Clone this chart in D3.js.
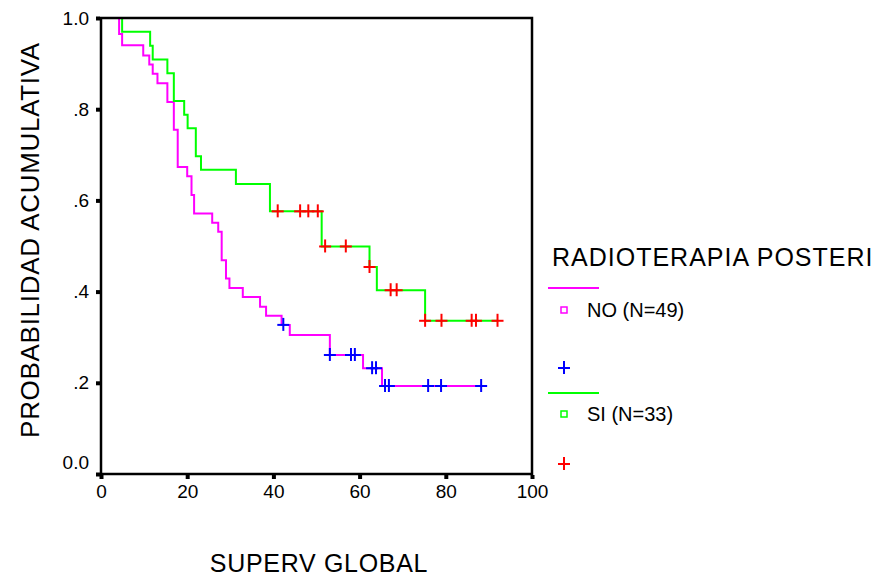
<!DOCTYPE html>
<html>
<head>
<meta charset="utf-8">
<script src="https://cdn.jsdelivr.net/npm/d3@7"></script>
<style>
  html, body { margin: 0; padding: 0; background: #fff; }
  svg { display: block; font-family: "Liberation Sans", Arial, sans-serif; }
</style>
</head>
<body>
<svg id="chart" width="881" height="579"></svg>
<script>
// Kaplan-Meier survival, grouped by post-operative radiotherapy.
// Step times (months) and the survival level reached at each step.
const noTimes = [0, 4.2, 4.9, 9.8, 11.2, 12.0, 13.1, 15.4, 16.9, 17.8, 20.0, 21.0, 21.6, 25.8, 27.2, 28.0, 29.0, 29.8, 32.9, 36.9, 38.3, 41.9, 43.8, 53.1, 60.8, 65.2];
const noSurv  = [1.0, 0.965, 0.940, 0.918, 0.898, 0.878, 0.857, 0.816, 0.755, 0.673, 0.653, 0.612, 0.571, 0.551, 0.531, 0.469, 0.429, 0.408, 0.388, 0.367, 0.347, 0.327, 0.305, 0.261, 0.232, 0.193];
const noEnd = 88.2;
const noCensored = [42.3, 53.1, 58.0, 58.9, 62.9, 63.8, 65.9, 66.8, 75.9, 78.9, 88.2];

const siTimes = [0, 4.9, 11.4, 12.0, 15.4, 16.9, 19.3, 20.1, 22.0, 23.2, 31.3, 39.2, 51.2, 62.3, 64.0, 75.2];
const siSurv  = [1.0, 0.970, 0.939, 0.909, 0.879, 0.818, 0.788, 0.758, 0.697, 0.667, 0.636, 0.576, 0.499, 0.454, 0.403, 0.336];
const siEnd = 92.0;
const siCensored = [41.0, 46.2, 48.1, 50.3, 52.0, 56.8, 62.3, 67.2, 68.6, 75.2, 79.0, 86.0, 87.0, 92.0];

const xTicks = [0, 20, 40, 60, 80, 100];
const xTickLabels = ["0", "20", "40", "60", "80", "100"];
const yTicks = [0, 0.2, 0.4, 0.6, 0.8, 1.0];
const yTickLabels = ["0.0", ".2", ".4", ".6", ".8", "1.0"];

const groups = [
  { label: "NO (N=49)", times: noTimes, surv: noSurv, end: noEnd, censored: noCensored, line: "#ff00ff", mark: "#0000ff" },
  { label: "SI (N=33)", times: siTimes, surv: siSurv, end: siEnd, censored: siCensored, line: "#00ff00", mark: "#ff0000" }
];

const svg = d3.select("#chart");
const plot = { left: 101, right: 532, top: 18, bottom: 474 };

const x = d3.scaleLinear().domain([0, 100]).range([plot.left, plot.right]);
const y = d3.scaleLinear().domain([0, 1]).range([plot.bottom, plot.top]);

// Survival level in effect at time t
function levelAt(g, t) {
  let s = g.surv[0];
  for (let i = 0; i < g.times.length; i++) if (g.times[i] <= t + 1e-9) s = g.surv[i];
  return s;
}

// Step curves
const stepLine = d3.line().x(d => x(d[0])).y(d => y(d[1])).curve(d3.curveStepAfter);
groups.forEach(g => {
  const pts = g.times.map((t, i) => [t, g.surv[i]]);
  pts.push([g.end, g.surv[g.surv.length - 1]]);
  svg.append("path")
    .attr("d", stepLine(pts))
    .attr("fill", "none")
    .attr("stroke", g.line)
    .attr("stroke-width", 2);
});

// Censoring marks
const plusSize = 6;
groups.forEach(g => {
  const m = svg.append("g").attr("stroke", g.mark).attr("stroke-width", 2);
  g.censored.forEach(t => {
    const cx = x(t), cy = y(levelAt(g, t));
    m.append("line").attr("x1", cx - plusSize).attr("x2", cx + plusSize).attr("y1", cy).attr("y2", cy);
    m.append("line").attr("x1", cx).attr("x2", cx).attr("y1", cy - plusSize - 1).attr("y2", cy + plusSize);
  });
});

// Frame
svg.append("rect")
  .attr("x", plot.left).attr("y", plot.top)
  .attr("width", plot.right - plot.left).attr("height", plot.bottom - plot.top)
  .attr("fill", "none").attr("stroke", "#000").attr("stroke-width", 2.5);

// Axes: square tick marks and labels
const yAxis = d3.axisLeft(y).tickValues(yTicks).tickSize(4).tickPadding(7)
  .tickFormat((d, i) => yTickLabels[i]);
const gy = svg.append("g").attr("transform", `translate(${plot.left - 1},0)`).call(yAxis);
gy.select(".domain").remove();
gy.selectAll(".tick line").attr("stroke", "#000").attr("stroke-width", 4);
gy.selectAll(".tick text").attr("font-size", 19).attr("fill", "#000")
  .attr("font-family", "Liberation Sans, Arial, sans-serif");
gy.selectAll(".tick").filter(d => d === 0).select("text").attr("dy", "-0.3em");

const xAxis = d3.axisBottom(x).tickValues(xTicks).tickSize(4).tickPadding(6)
  .tickFormat((d, i) => xTickLabels[i]);
const gx = svg.append("g").attr("transform", `translate(0,${plot.bottom + 1})`).call(xAxis);
gx.select(".domain").remove();
gx.selectAll(".tick line").attr("stroke", "#000").attr("stroke-width", 4);
gx.selectAll(".tick text").attr("font-size", 19).attr("fill", "#000")
  .attr("font-family", "Liberation Sans, Arial, sans-serif");

// Axis titles
svg.append("text")
  .attr("x", 319).attr("y", 572)
  .attr("text-anchor", "middle").attr("font-size", 25).attr("letter-spacing", 0.7)
  .text("SUPERV GLOBAL");

svg.append("text")
  .attr("transform", "translate(39,240) rotate(-90)")
  .attr("text-anchor", "middle").attr("font-size", 26).attr("letter-spacing", 0.7)
  .text("PROBABILIDAD ACUMULATIVA");

// Legend
const lg = svg.append("g");
lg.append("text").attr("x", 552).attr("y", 266).attr("font-size", 25).attr("letter-spacing", 1.0)
  .text("RADIOTERAPIA POSTERI");

const legendRows = [
  { lineY: 288, boxY: 310, plusY: 368 },
  { lineY: 393, boxY: 414, plusY: 464 }
];
groups.forEach((g, i) => {
  const r = legendRows[i];
  lg.append("line").attr("x1", 548).attr("x2", 599).attr("y1", r.lineY).attr("y2", r.lineY)
    .attr("stroke", g.line).attr("stroke-width", 2);
  lg.append("rect").attr("x", 561).attr("y", r.boxY - 3).attr("width", 6).attr("height", 6)
    .attr("fill", "none").attr("stroke", g.line).attr("stroke-width", 1.5);
  lg.append("text").attr("x", 587).attr("y", r.boxY + 7).attr("font-size", 20)
    .text(g.label);
  const pm = lg.append("g").attr("stroke", g.mark).attr("stroke-width", 2);
  pm.append("line").attr("x1", 558).attr("x2", 570).attr("y1", r.plusY).attr("y2", r.plusY);
  pm.append("line").attr("x1", 564).attr("x2", 564).attr("y1", r.plusY - 7).attr("y2", r.plusY + 6);
});
</script>
</body>
</html>
